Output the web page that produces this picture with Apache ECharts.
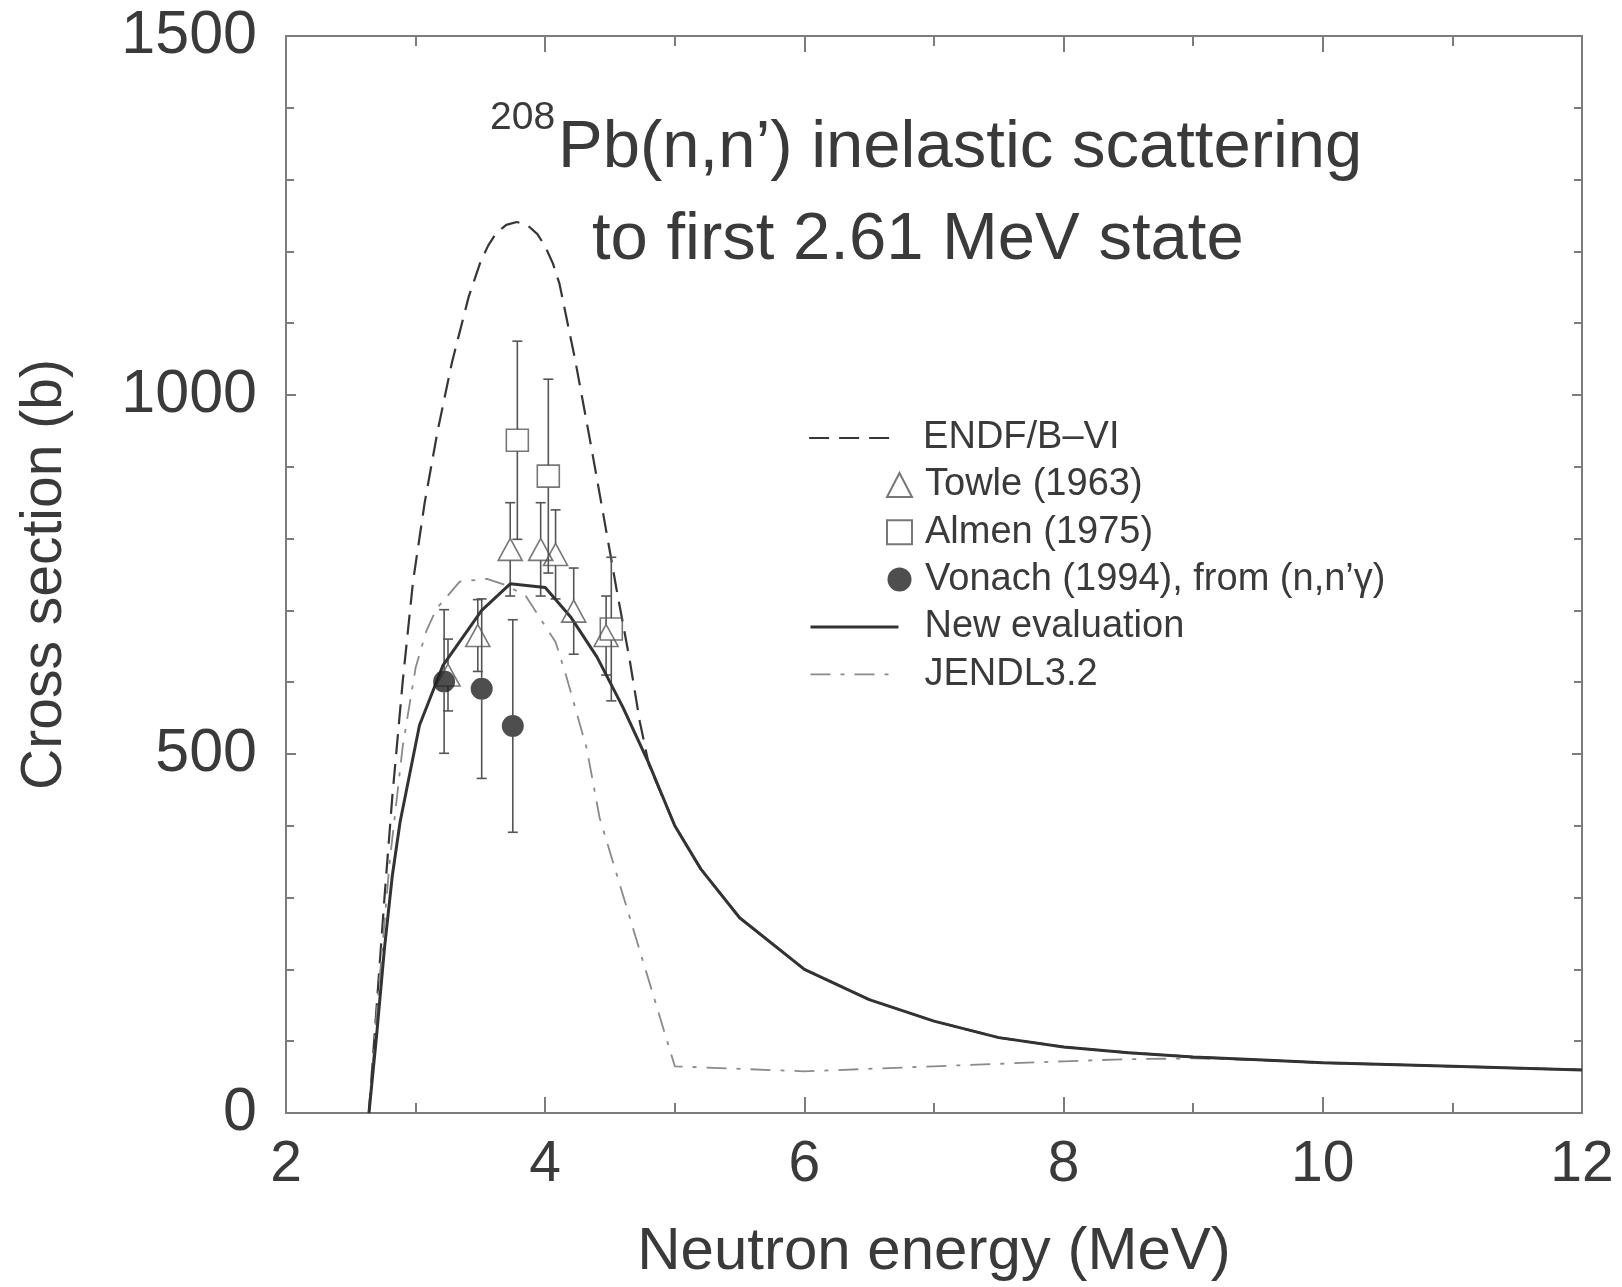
<!DOCTYPE html>
<html>
<head>
<meta charset="utf-8">
<script src="https://cdn.jsdelivr.net/npm/echarts@6/dist/echarts.min.js"></script>
<style>
  html, body { margin: 0; padding: 0; background: #ffffff; }
  #chart { width: 1622px; height: 1287px; }
</style>
</head>
<body>
<div id="chart"></div>
<script>
// Evaluated cross sections, [neutron energy (MeV), cross section (b)]
const endfB6 = [
  [2.64, 0], [2.70, 150], [2.76, 300], [2.82, 440], [2.90, 600], [2.98, 740],
  [3.07, 850], [3.17, 950], [3.28, 1045], [3.41, 1137], [3.50, 1185], [3.56, 1208],
  [3.62, 1225], [3.70, 1237], [3.78, 1241], [3.86, 1237], [3.94, 1224], [4.00, 1207],
  [4.06, 1183], [4.11, 1155], [4.23, 1050],
  [4.35, 933], [4.45, 832], [4.55, 730], [4.65, 633], [4.73, 545], [4.80, 485],
  [5.0, 400], [5.2, 340], [5.5, 272], [6.0, 200], [6.5, 158], [7.0, 128], [7.5, 105],
  [8.0, 92], [8.5, 84], [9.0, 78], [9.5, 74], [10.0, 70], [11.0, 65], [12.0, 60]
];
const newEvaluation = [
  [2.64, 0], [2.70, 110], [2.76, 230], [2.82, 330], [2.88, 405], [3.03, 540],
  [3.21, 623], [3.51, 700], [3.73, 737], [4.0, 732], [4.2, 690], [4.4, 635],
  [4.6, 565], [4.8, 487], [5.0, 400], [5.2, 340], [5.5, 272], [6.0, 200],
  [6.5, 158], [7.0, 128], [7.5, 105], [8.0, 92], [8.5, 84], [9.0, 78],
  [9.5, 74], [10.0, 70], [11.0, 65], [12.0, 60]
];
const jendl32 = [
  [2.64, 0], [2.70, 140], [2.80, 350], [2.90, 510], [3.00, 620], [3.08, 670],
  [3.16, 702], [3.34, 740], [3.55, 744], [3.70, 735], [3.85, 720], [4.08, 656],
  [4.16, 610], [4.32, 508], [4.42, 411], [5.0, 65], [6.0, 58], [7.0, 65],
  [8.0, 72], [8.5, 75], [9.0, 76], [9.5, 74], [10.0, 70], [11.0, 65], [12.0, 60]
];

// Measurements, [neutron energy (MeV), cross section (b), uncertainty (b)]
const towle1963 = [
  [3.25, 610, 50], [3.48, 665, 50], [3.73, 785, 65], [3.965, 785, 65],
  [4.08, 778, 62], [4.22, 699, 60], [4.47, 665, 55]
];
const almen1975 = [
  [3.785, 937, 138], [4.024, 887, 135], [4.51, 674, 100]
];
const vonach1994 = [
  [3.22, 601, 100], [3.51, 591, 125], [3.75, 539, 148]
];

// Axis ranges
const xRange = { min: 2, max: 12, step: 2 };
const yRange = { min: 0, max: 1500, step: 500 };

const FONT = '"Liberation Sans", Arial, Helvetica, sans-serif';
const INK = '#3a3a3a';
const AXIS = '#7c7c7c';

const chart = echarts.init(document.getElementById('chart'), null, { renderer: 'canvas' });

function errorBars(name, rows, color) {
  return {
    type: 'custom',
    name: name + ' error',
    silent: true,
    z: 3,
    data: rows.map(r => [r[0], r[1] - r[2], r[1] + r[2], r[1]]),
    encode: { x: 0, y: [1, 2] },
    renderItem: function (params, api) {
      const e = api.value(0);
      const lo = api.coord([e, api.value(1)]);
      const hi = api.coord([e, api.value(2)]);
      const mid = api.coord([e, api.value(3)]);
      const gap = 11, cap = 5;
      const style = { stroke: color, lineWidth: 1.6 };
      const parts = [
        { type: 'line', shape: { x1: mid[0], y1: hi[1], x2: mid[0], y2: mid[1] - gap }, style },
        { type: 'line', shape: { x1: mid[0], y1: mid[1] + gap, x2: mid[0], y2: lo[1] }, style },
        { type: 'line', shape: { x1: mid[0] - cap, y1: hi[1], x2: mid[0] + cap, y2: hi[1] }, style },
        { type: 'line', shape: { x1: mid[0] - cap, y1: lo[1], x2: mid[0] + cap, y2: lo[1] }, style }
      ];
      return { type: 'group', children: parts };
    }
  };
}

const legendText = { fontFamily: FONT, fontSize: 38, color: INK, lineHeight: 38 };

const option = {
  backgroundColor: '#ffffff',
  animation: false,
  grid: { left: 286, top: 36, width: 1296, height: 1082, containLabel: false },
  graphic: [
    { type: 'text', x: 490, y: 118.5,
      style: { text: '208', font: '39px ' + FONT, fill: INK, align: 'left', verticalAlign: 'middle' } },
    { type: 'text', x: 558, y: 148.5,
      style: { text: 'Pb(n,n\u2019) inelastic scattering', font: '67px ' + FONT, fill: INK, align: 'left', verticalAlign: 'middle' } },
    { type: 'text', x: 592, y: 240.8,
      style: { text: 'to first 2.61 MeV state', font: '67px ' + FONT, fill: INK, align: 'left', verticalAlign: 'middle' } }
  ],
  legend: [
    { data: ['ENDF/B\u2013VI'], orient: 'vertical', left: 803, top: 414, itemWidth: 88, itemHeight: 14,
      itemGap: 9, selectedMode: false, textStyle: Object.assign({ padding: [0, 0, 0, 21] }, legendText),
      itemStyle: { opacity: 0 }, lineStyle: { width: 'inherit' } },
    { data: ['Towle (1963)', 'Almen (1975)', 'Vonach (1994), from (n,n\u2019\u03b3)'], orient: 'vertical',
      left: 881, top: 461, itemWidth: 25, itemHeight: 24, itemGap: 9.3, selectedMode: false,
      textStyle: Object.assign({ padding: [0, 0, 0, 8] }, legendText) },
    { data: ['New evaluation', 'JENDL3.2'], orient: 'vertical', left: 804, top: 603, itemWidth: 88, itemHeight: 14,
      itemGap: 9.3, selectedMode: false, textStyle: Object.assign({ padding: [0, 0, 0, 21] }, legendText),
      itemStyle: { opacity: 0 }, lineStyle: { width: 'inherit' } }
  ],
  xAxis: [
    {
      type: 'value', min: xRange.min, max: xRange.max, interval: xRange.step,
      name: 'Neutron energy (MeV)', nameLocation: 'middle', nameGap: 109,
      nameTextStyle: { fontFamily: FONT, fontSize: 60, color: INK, lineHeight: 60 },
      axisLine: { onZero: false, lineStyle: { color: AXIS, width: 2 } },
      axisTick: { inside: true, length: 16, lineStyle: { color: AXIS, width: 2 } },
      minorTick: { show: true, splitNumber: 2, length: 10, lineStyle: { color: AXIS, width: 2 } },
      axisLabel: { fontFamily: FONT, fontSize: 57, color: INK, margin: 24, lineHeight: 57 },
      splitLine: { show: false }
    },
    {
      type: 'value', position: 'top', min: xRange.min, max: xRange.max, interval: xRange.step,
      axisLine: { onZero: false, lineStyle: { color: AXIS, width: 2 } },
      axisTick: { inside: true, length: 16, lineStyle: { color: AXIS, width: 2 } },
      minorTick: { show: true, splitNumber: 2, length: 10, lineStyle: { color: AXIS, width: 2 } },
      axisLabel: { show: false }, splitLine: { show: false }
    }
  ],
  yAxis: [
    {
      type: 'value', min: yRange.min, max: yRange.max, interval: yRange.step,
      name: 'Cross section (b)', nameLocation: 'middle', nameRotate: 90, nameGap: 212,
      nameTextStyle: { fontFamily: FONT, fontSize: 57, color: INK, lineHeight: 57 },
      axisLine: { onZero: false, lineStyle: { color: AXIS, width: 2 } },
      axisTick: { inside: true, length: 10, lineStyle: { color: AXIS, width: 2 } },
      minorTick: { show: true, splitNumber: 5, length: 8, lineStyle: { color: AXIS, width: 2 } },
      axisLabel: { fontFamily: FONT, fontSize: 61, color: INK, margin: 29, formatter: v => String(v) },
      splitLine: { show: false }
    },
    {
      type: 'value', position: 'right', min: yRange.min, max: yRange.max, interval: yRange.step,
      axisLine: { onZero: false, lineStyle: { color: AXIS, width: 2 } },
      axisTick: { inside: true, length: 10, lineStyle: { color: AXIS, width: 2 } },
      minorTick: { show: true, splitNumber: 5, length: 8, lineStyle: { color: AXIS, width: 2 } },
      axisLabel: { show: false }, splitLine: { show: false }
    }
  ],
  series: [
    {
      name: 'ENDF/B\u2013VI', type: 'line', data: endfB6, symbol: 'none', smooth: false, z: 2,
      lineStyle: { color: '#363636', width: 2.2, type: [20, 10] }, itemStyle: { color: '#363636' }
    },
    errorBars('Towle (1963)', towle1963, '#555555'),
    errorBars('Almen (1975)', almen1975, '#555555'),
    errorBars('Vonach (1994)', vonach1994, '#555555'),
    {
      name: 'Towle (1963)', type: 'scatter', data: towle1963.map(r => [r[0], r[1]]), z: 4,
      symbol: 'triangle', symbolSize: [24, 22],
      itemStyle: { color: 'rgba(255,255,255,0)', borderColor: '#555555', borderWidth: 1.6 }
    },
    {
      name: 'Almen (1975)', type: 'scatter', data: almen1975.map(r => [r[0], r[1]]), z: 4,
      symbol: 'rect', symbolSize: 22,
      itemStyle: { color: 'rgba(255,255,255,0)', borderColor: '#555555', borderWidth: 1.6 }
    },
    {
      name: 'Vonach (1994), from (n,n\u2019\u03b3)', type: 'scatter', data: vonach1994.map(r => [r[0], r[1]]), z: 5,
      symbol: 'circle', symbolSize: 22,
      itemStyle: { color: '#222222', borderColor: '#222222', borderWidth: 0 }
    },
    {
      name: 'New evaluation', type: 'line', data: newEvaluation, symbol: 'none', z: 3,
      lineStyle: { color: '#333333', width: 3 }, itemStyle: { color: '#333333' }
    },
    {
      name: 'JENDL3.2', type: 'line', data: jendl32, symbol: 'none', z: 2,
      lineStyle: { color: '#8a8a8a', width: 1.8, type: [20, 10, 4, 10] }, itemStyle: { color: '#8a8a8a' }
    }
  ]
};

chart.setOption(option);
</script>
</body>
</html>
